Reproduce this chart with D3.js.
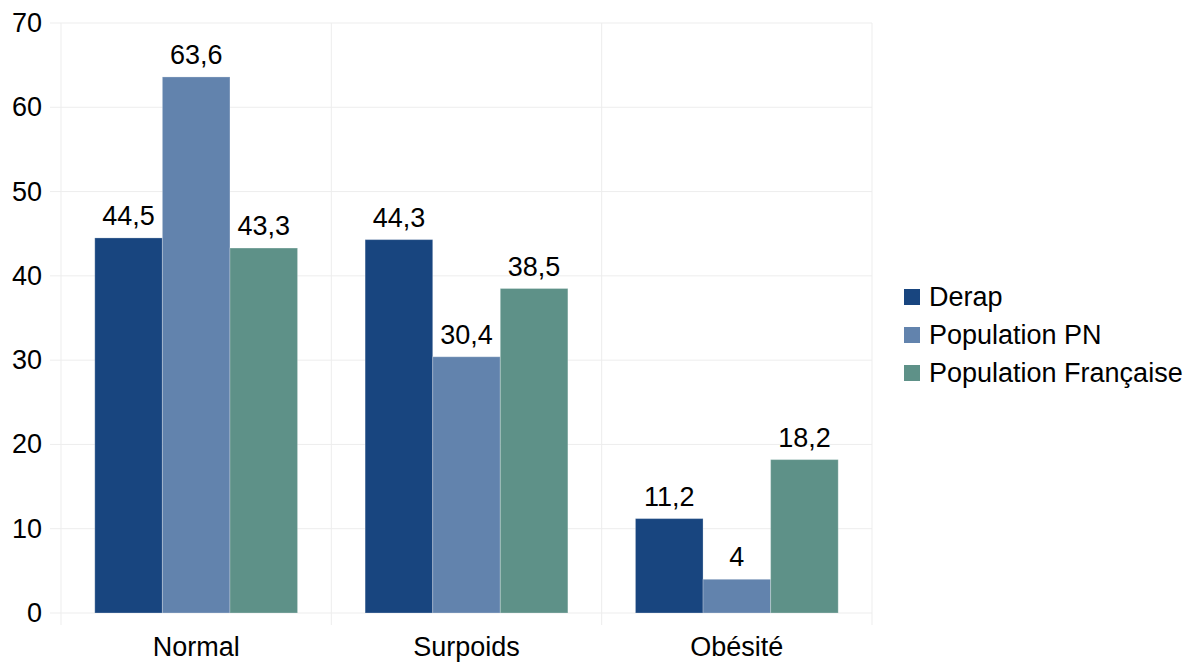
<!DOCTYPE html>
<html>
<head>
<meta charset="utf-8">
<script src="https://cdn.jsdelivr.net/npm/d3@7"></script>
<style>
  body { margin: 0; background: #fff; }
  svg text { font-family: "Liberation Sans", Arial, sans-serif; fill: #000; }
</style>
</head>
<body>
<svg id="chart" width="1193" height="662"></svg>
<script>
// data
const categories = ["Normal", "Surpoids", "Obésité"];
const seriesNames = ["Derap", "Population PN", "Population Française"];
const derap = [44.5, 44.3, 11.2];
const popPN = [63.6, 30.4, 4];
const popFR = [43.3, 38.5, 18.2];
const yTicks = [0, 10, 20, 30, 40, 50, 60, 70];
const colors = ["#18457f", "#6283ad", "#5e9188"];

const series = [derap, popPN, popFR];

const svg = d3.select("#chart");
const margin = {left: 61, right: 321, top: 23, bottom: 49};
const W = 1193, H = 662;
const fs = "27px";

const x = d3.scaleBand().domain(categories).range([margin.left, W - margin.right]).paddingInner(0).paddingOuter(0);
const x1 = d3.scaleBand().domain(seriesNames).range([0, x.bandwidth()]).paddingOuter(0.5).paddingInner(0);
const y = d3.scaleLinear().domain([0, 70]).range([H - margin.bottom, margin.top]);

// horizontal grid + little ticks on the left
svg.append("g").selectAll("line").data(yTicks).join("line")
  .attr("x1", margin.left - 11).attr("x2", W - margin.right)
  .attr("y1", d => y(d)).attr("y2", d => y(d))
  .attr("stroke", "#ededed").attr("stroke-width", 1);

// vertical lines at category boundaries
const bounds = categories.map(c => x(c)).concat([W - margin.right]);
svg.append("g").selectAll("line").data(bounds).join("line")
  .attr("x1", d => d).attr("x2", d => d)
  .attr("y1", margin.top).attr("y2", y(0) + 12)
  .attr("stroke", "#ededed").attr("stroke-width", 1);

// y labels
svg.append("g").selectAll("text").data(yTicks).join("text")
  .attr("x", 42).attr("y", d => y(d) + 9)
  .attr("text-anchor", "end").style("font-size", fs)
  .text(d => d);

// bars
const groups = svg.append("g").selectAll("g").data(categories).join("g")
  .attr("transform", c => "translate(" + x(c) + ",0)");

groups.each(function(c, ci) {
  const g = d3.select(this);
  const rows = seriesNames.map((s, si) => ({s: s, v: series[si][ci], color: colors[si]}));
  g.selectAll("rect").data(rows).join("rect")
    .attr("x", d => x1(d.s)).attr("width", x1.bandwidth())
    .attr("y", d => y(d.v)).attr("height", d => y(0) - y(d.v))
    .attr("fill", d => d.color)
    .attr("stroke", "rgba(255,255,255,0.25)").attr("stroke-width", 1);
  g.selectAll("text").data(rows).join("text")
    .attr("x", d => x1(d.s) + x1.bandwidth() / 2)
    .attr("y", d => y(d.v) - 13)
    .attr("text-anchor", "middle").style("font-size", fs)
    .text(d => String(d.v).replace(".", ","));
});

// category labels
svg.append("g").selectAll("text").data(categories).join("text")
  .attr("x", c => x(c) + x.bandwidth() / 2).attr("y", 656)
  .attr("text-anchor", "middle").style("font-size", fs)
  .text(c => c);

// legend
const legend = svg.append("g").attr("transform", "translate(904,297)");
const li = legend.selectAll("g").data(seriesNames).join("g")
  .attr("transform", (d, i) => "translate(0," + (i * 38) + ")");
li.append("rect").attr("x", 0).attr("y", -8).attr("width", 16).attr("height", 16)
  .attr("fill", (d, i) => colors[i]);
li.append("text").attr("x", 25).attr("y", 9).style("font-size", fs).text(d => d);
</script>
</body>
</html>
